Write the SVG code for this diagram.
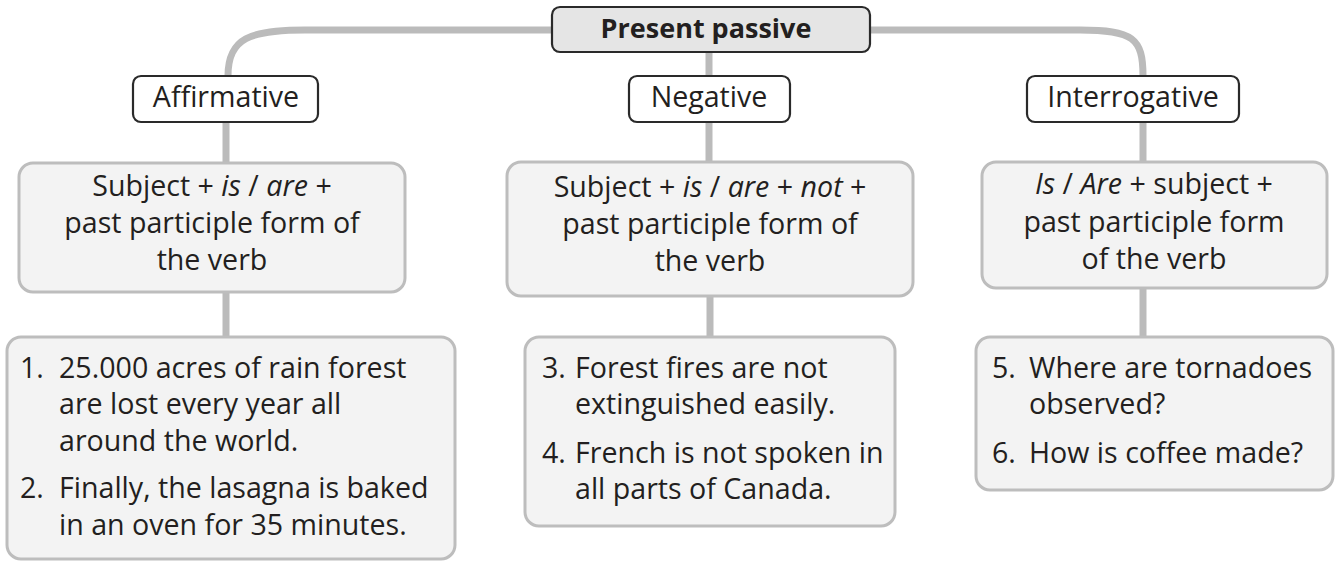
<svg xmlns="http://www.w3.org/2000/svg" width="1335" height="561" viewBox="0 0 1335 561">
<style>
  text { font-family: "Open Sans", "Noto Sans", "Liberation Sans", sans-serif; font-size: 28.6px; fill: #231f20; }
  .c { text-anchor: middle; }
  .title { font-weight: bold; font-size: 27px; }
  .it { font-style: italic; }
  .conn { fill: none; stroke: #bbbbbb; stroke-width: 7; }
  .head { fill: #e5e5e5; stroke: #2a2a2a; stroke-width: 2.2; }
  .cat { fill: #ffffff; stroke: #2a2a2a; stroke-width: 2.2; }
  .box { fill: #f3f3f3; stroke: #bdbdbd; stroke-width: 3; }
</style>
<g id="connectors">
  <path class="conn" d="M 228 76 C 228 38 250 30 305 30 H 1080 C 1133 30 1143 38 1143 76"/>
  <path class="conn" d="M 709 52 V 162"/>
  <path class="conn" d="M 226 122 V 337"/>
  <path class="conn" d="M 710 296 V 337"/>
  <path class="conn" d="M 1143 122 V 337"/>
</g>
<g id="present-passive">
  <rect class="head" x="552" y="7" width="318" height="45" rx="8"/>
  <text class="c title" x="706" y="38">Present passive</text>
</g>
<g id="affirmative">
  <rect class="cat" x="133" y="76" width="185" height="46" rx="8"/>
  <text class="c" x="226" y="107">Affirmative</text>
</g>
<g id="negative">
  <rect class="cat" x="629" y="76" width="161" height="46" rx="8"/>
  <text class="c" x="709" y="107">Negative</text>
</g>
<g id="interrogative">
  <rect class="cat" x="1027" y="76" width="212" height="46" rx="8"/>
  <text class="c" x="1133" y="107">Interrogative</text>
</g>
<g id="affirmative-rule">
  <rect class="box" x="19" y="163" width="386" height="129" rx="14"/>
  <text class="c" x="212" y="196">Subject + <tspan class="it">is</tspan> / <tspan class="it">are</tspan> +</text>
  <text class="c" x="212" y="233">past participle form of</text>
  <text class="c" x="212" y="270">the verb</text>
</g>
<g id="negative-rule">
  <rect class="box" x="507" y="162" width="406" height="134" rx="14"/>
  <text class="c" x="710" y="197">Subject + <tspan class="it">is</tspan> / <tspan class="it">are</tspan> + <tspan class="it">not</tspan> +</text>
  <text class="c" x="710" y="234">past participle form of</text>
  <text class="c" x="710" y="271">the verb</text>
</g>
<g id="interrogative-rule">
  <rect class="box" x="982" y="162" width="345" height="126" rx="14"/>
  <text class="c" x="1154" y="194"><tspan class="it">Is</tspan> / <tspan class="it">Are</tspan> + subject +</text>
  <text class="c" x="1154" y="232">past participle form</text>
  <text class="c" x="1154" y="269">of the verb</text>
</g>
<g id="affirmative-examples">
  <rect class="box" x="7" y="337" width="448" height="222" rx="14"/>
  <text x="20" y="378">1.</text>
  <text x="59" y="378">25.000 acres of rain forest</text>
  <text x="59" y="414">are lost every year all</text>
  <text x="59" y="451">around the world.</text>
  <text x="20" y="498">2.</text>
  <text x="59" y="498">Finally, the lasagna is baked</text>
  <text x="59" y="535">in an oven for 35 minutes.</text>
</g>
<g id="negative-examples">
  <rect class="box" x="525" y="337" width="370" height="189" rx="14"/>
  <text x="542" y="378">3.</text>
  <text x="575" y="378">Forest fires are not</text>
  <text x="575" y="414">extinguished easily.</text>
  <text x="542" y="463">4.</text>
  <text x="575" y="463">French is not spoken in</text>
  <text x="575" y="499">all parts of Canada.</text>
</g>
<g id="interrogative-examples">
  <rect class="box" x="976" y="337" width="357" height="153" rx="14"/>
  <text x="992" y="378">5.</text>
  <text x="1029" y="378">Where are tornadoes</text>
  <text x="1029" y="414">observed?</text>
  <text x="992" y="463">6.</text>
  <text x="1029" y="463">How is coffee made?</text>
</g>
</svg>
